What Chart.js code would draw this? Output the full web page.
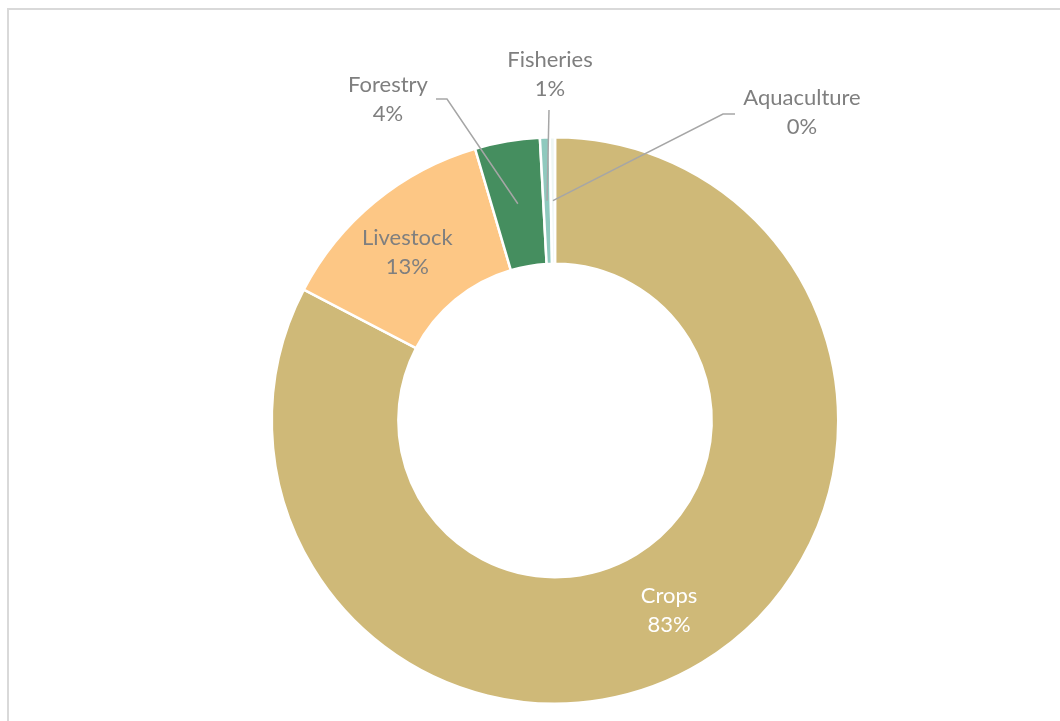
<!DOCTYPE html>
<html>
<head>
<meta charset="utf-8">
<script src="https://cdn.jsdelivr.net/npm/chart.js@4.4.1/dist/chart.umd.min.js"></script>
<style>
  html, body { margin: 0; padding: 0; background: #ffffff; overflow: hidden; }
  #wrap { position: relative; width: 1060px; height: 721px; }
  #frame { position: absolute; left: 7px; top: 8px; width: 1100px; height: 800px;
           border: 2px solid #d9d9d9; box-sizing: border-box; }
  #c { position: absolute; left: 0; top: 0; }
</style>
</head>
<body>
<div id="wrap">
  <div id="frame"></div>
  <canvas id="c" width="1060" height="721"></canvas>
</div>
<script>
// ---- data ----
const categories = ['Crops', 'Livestock', 'Forestry', 'Fisheries', 'Aquaculture'];
const shares = [82.6, 12.8, 3.7, 0.55, 0.3];
const sliceColors = ['#CFB978', '#FDC785', '#458E5F', '#8FC9BE', '#EEF6F4'];

// ---- label layout (text placement only) ----
// inside labels: offset from arc centroid
const insideLabels = { 0: [0, 2], 1: [-8, 2] };
// outside labels: text centre, leader elbow start, elbow end x
const outsideLabels = {
  2: { x: 388, y: 85, lx: 436, ly: 99, ex: 447 },
  3: { x: 550, y: 60, lx: 549, ly: 110, ex: 549 },
  4: { x: 802, y: 98, lx: 735, ly: 114, ex: 723 }
};
const lineGap = 29;

const labelPlugin = {
  id: 'sliceLabels',
  afterDatasetsDraw(chart) {
    const ctx = chart.ctx;
    const meta = chart.getDatasetMeta(0);
    const data = chart.data.datasets[0].data;
    const total = data.reduce((a, b) => a + b, 0);
    ctx.save();
    ctx.font = '22px Lato, "Open Sans", sans-serif';
    ctx.textAlign = 'center';
    ctx.textBaseline = 'middle';
    meta.data.forEach((arc, i) => {
      const pct = Math.round(data[i] / total * 100) + '%';
      const p = arc.tooltipPosition();
      if (insideLabels[i]) {
        const o = insideLabels[i];
        const cx = p.x + o[0], cy = p.y + o[1];
        ctx.fillStyle = i === 0 ? '#ffffff' : '#7f7f7f';
        ctx.fillText(categories[i], cx, cy - lineGap / 2);
        ctx.fillText(pct, cx, cy + lineGap / 2);
      } else if (outsideLabels[i]) {
        const o = outsideLabels[i];
        ctx.strokeStyle = '#a6a6a6';
        ctx.lineWidth = 1.5;
        ctx.beginPath();
        ctx.moveTo(o.lx, o.ly);
        ctx.lineTo(o.ex, o.ly);
        ctx.lineTo(p.x, p.y);
        ctx.stroke();
        ctx.fillStyle = '#7f7f7f';
        ctx.fillText(categories[i], o.x, o.y);
        ctx.fillText(pct, o.x, o.y + lineGap);
      }
    });
    ctx.restore();
  }
};

new Chart(document.getElementById('c'), {
  type: 'doughnut',
  data: {
    labels: categories,
    datasets: [{
      data: shares,
      backgroundColor: sliceColors,
      borderColor: '#ffffff',
      borderWidth: 2.5,
      hoverOffset: 0
    }]
  },
  options: {
    responsive: false,
    animation: false,
    cutout: '55.3%',
    layout: { padding: { top: 136, bottom: 16, left: 270.5, right: 220.5 } },
    plugins: {
      legend: { display: false },
      tooltip: { enabled: false }
    }
  },
  plugins: [labelPlugin]
});
</script>
</body>
</html>
